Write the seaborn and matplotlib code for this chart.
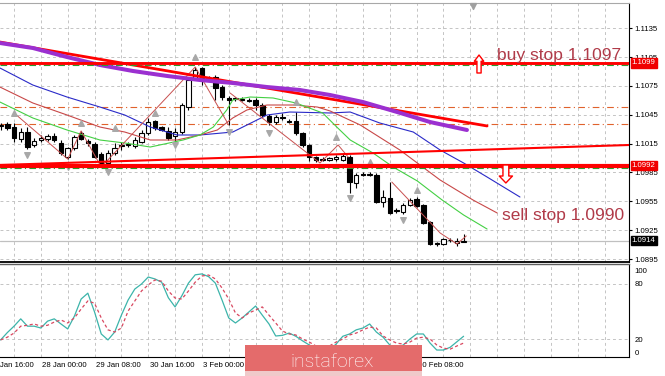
import matplotlib
matplotlib.use("Agg")
import matplotlib.pyplot as plt
import numpy as np
import pandas as pd
import seaborn as sns
from matplotlib.patches import Rectangle
from matplotlib.transforms import blended_transform_factory

# EURUSD H4, bar 0 = 27 Jan 00:00
bars = list(range(70))
opens = [1.10334, 1.10354, 1.10323, 1.10198, 1.10271, 1.10136, 1.10193, 1.10198, 1.10230, 1.10157,
         1.10011, 1.10105, 1.10261, 1.10178, 1.10146, 1.10042, 1.09949, 1.10053, 1.10126, 1.10136,
         1.10126, 1.10167, 1.10261, 1.10386, 1.10323, 1.10282, 1.10230, 1.10271, 1.10531, 1.10833,
         1.10937, 1.10833, 1.10843, 1.10739, 1.10625, 1.10614, 1.10614, 1.10604, 1.10604, 1.10552,
         1.10438, 1.10375, 1.10427, 1.10386, 1.10386, 1.10261, 1.10136, 1.10011, 1.09990, 1.09980,
         1.09990, 1.09980, 1.10011, 1.09741, 1.09834, 1.09824, 1.09824, 1.09543, 1.09585, 1.09460,
         1.09439, 1.09512, 1.09574, 1.09512, 1.09335, 1.09117, 1.09106, 1.09148, 1.09117, 1.09130]
highs = [1.10365, 1.10375, 1.10365, 1.10313, 1.10323, 1.10209, 1.10240, 1.10250, 1.10261, 1.10188,
         1.10115, 1.10240, 1.10282, 1.10198, 1.10167, 1.10063, 1.10084, 1.10157, 1.10167, 1.10167,
         1.10219, 1.10292, 1.10417, 1.10396, 1.10334, 1.10323, 1.10313, 1.10573, 1.10833, 1.10947,
         1.10947, 1.10854, 1.10864, 1.10760, 1.10646, 1.10635, 1.10635, 1.10625, 1.10625, 1.10573,
         1.10458, 1.10448, 1.10469, 1.10406, 1.10479, 1.10271, 1.10146, 1.10022, 1.10011, 1.10011,
         1.10032, 1.10042, 1.10032, 1.09845, 1.09855, 1.09855, 1.09845, 1.09668, 1.09751, 1.09481,
         1.09533, 1.09585, 1.09595, 1.09522, 1.09346, 1.09127, 1.09169, 1.09169, 1.09169, 1.09210]
lows = [1.10292, 1.10292, 1.10167, 1.10167, 1.10094, 1.10115, 1.10167, 1.10178, 1.10167, 1.10032,
        1.09990, 1.10084, 1.10188, 1.10126, 1.10001, 1.09907, 1.09907, 1.10032, 1.10084, 1.10115,
        1.10105, 1.10157, 1.10240, 1.10292, 1.10282, 1.10188, 1.10157, 1.10250, 1.10500, 1.10812,
        1.10760, 1.10812, 1.10604, 1.10604, 1.10344, 1.10594, 1.10594, 1.10583, 1.10500, 1.10427,
        1.10344, 1.10354, 1.10396, 1.10365, 1.10240, 1.10115, 1.09970, 1.09959, 1.09970, 1.09970,
        1.09970, 1.09970, 1.09637, 1.09689, 1.09814, 1.09814, 1.09533, 1.09491, 1.09418, 1.09429,
        1.09418, 1.09502, 1.09491, 1.09314, 1.09096, 1.09086, 1.09096, 1.09127, 1.09086, 1.09127]
closes = [1.10344, 1.10313, 1.10209, 1.10271, 1.10115, 1.10178, 1.10204, 1.10230, 1.10188, 1.10053,
          1.10105, 1.10219, 1.10198, 1.10157, 1.10011, 1.09928, 1.10053, 1.10105, 1.10136, 1.10146,
          1.10188, 1.10261, 1.10375, 1.10313, 1.10292, 1.10209, 1.10271, 1.10552, 1.10812, 1.10916,
          1.10833, 1.10822, 1.10729, 1.10635, 1.10604, 1.10625, 1.10604, 1.10594, 1.10552, 1.10448,
          1.10375, 1.10427, 1.10417, 1.10375, 1.10261, 1.10136, 1.10011, 1.09980, 1.09985, 1.10001,
          1.10011, 1.10022, 1.09751, 1.09824, 1.09824, 1.09834, 1.09543, 1.09595, 1.09429, 1.09450,
          1.09512, 1.09564, 1.09502, 1.09325, 1.09106, 1.09106, 1.09158, 1.09145, 1.09138, 1.09140]

# alligator lines + long MA (bar position, price)
jaw_x = [-0.1, 4.8, 9.9, 14.8, 18.5, 22.3, 26.3, 29.7, 34.6, 37.0, 39.7, 43.1, 49.1, 52.1, 56.5, 61.5, 65.5, 69.0, 72.5, 77.4]
jaw_y = [1.10937, 1.10760, 1.10635, 1.10531, 1.10448, 1.10323, 1.10240, 1.10240, 1.10271, 1.10354,
         1.10448, 1.10479, 1.10469, 1.10479, 1.10365, 1.10271, 1.10084, 1.09949, 1.09803, 1.09595]
teeth_x = [-0.1, 4.8, 9.9, 14.8, 18.5, 22.3, 26.3, 29.7, 32.3, 34.6, 36.7, 39.7, 43.6, 47.2, 49.1, 53.6, 59.5, 65.5, 70.4, 74.0]
teeth_y = [1.10739, 1.10573, 1.10448, 1.10323, 1.10271, 1.10188, 1.10188, 1.10240, 1.10292, 1.10417,
           1.10500, 1.10552, 1.10552, 1.10531, 1.10490, 1.10344, 1.10084, 1.09772, 1.09564, 1.09429]
lips_x = [-0.1, 4.8, 9.9, 14.8, 18.5, 22.3, 27.2, 29.7, 31.7, 33.7, 34.6, 37.2, 40.6, 44.0, 48.0, 50.1,
          52.1, 55.5, 58.5, 62.1, 65.8, 69.0, 72.5]
lips_y = [1.10583, 1.10417, 1.10292, 1.10188, 1.10157, 1.10115, 1.10188, 1.10240, 1.10323, 1.10500,
          1.10604, 1.10635, 1.10625, 1.10573, 1.10469, 1.10323, 1.10188, 1.10053, 1.09907, 1.09762,
          1.09564, 1.09408, 1.09262]
ma_x = [-0.1, 4.8, 9.9, 14.8, 19.7, 24.8, 29.7, 34.6, 39.7, 44.6, 49.1, 54.0, 59.1, 64.0, 69.5]
ma_y = [1.11197, 1.11145, 1.11051, 1.10968, 1.10906, 1.10854, 1.10812, 1.10781, 1.10739, 1.10708,
        1.10656, 1.10583, 1.10479, 1.10375, 1.10292]

# zigzag pieces
zz_a_x = [2, 10, 12, 15, 29, 34]
zz_a_y = [1.10469, 1.09990, 1.10282, 1.09907, 1.10947, 1.10344]
zz_b_x = [34.2, 47.6, 50.3, 51.8]
zz_b_y = [1.10677, 1.09949, 1.10136, 1.10011]
zz_c_x = [58.3, 65.5, 68.0, 69.4]
zz_c_y = [1.09751, 1.09221, 1.09106, 1.09190]

# fractals
frac_up_x = [2, 12, 17, 23, 29, 44, 50, 55, 62]
frac_up_y = [1.10469, 1.10365, 1.10313, 1.10469, 1.11051, 1.10583, 1.10219, 1.09959, 1.09668]
frac_dn_x = [4, 10, 16, 26, 34, 40, 52, 60]
frac_dn_y = [1.10032, 1.09907, 1.09855, 1.10136, 1.10271, 1.10261, 1.09585, 1.09356]

# drawn levels and trendlines
buy_stop_line = 1.1099
sell_stop_line = 1.0992
buy_order = 1.1097
sell_order = 1.0990
orange_levels = [1.10528, 1.10354]
bid = 1.0914
down_trend_x = [-0.1, 72.5]
down_trend_y = [1.11207, 1.10334]
up_trend_x = [-0.1, 93.65]
up_trend_y = [1.09928, 1.10136]

# stochastic
stoch_k = [19, 27, 34, 42, 34, 34, 32, 39.5, 42, 36.4, 31, 45, 63.6, 70, 49.5, 25.5, 19, 27.6, 46, 62.5,
           74.5, 80, 87.6, 85.5, 82, 65, 55, 67, 81, 90, 91, 88, 81, 62.5, 43, 37.5, 43, 49.5, 56, 46,
           36.4, 23.3, 24, 26.5, 23, 18, 13.5, 10, 8, 8, 14.5, 23, 25.5, 30, 32, 36.4, 27.6, 22, 13.5, 10,
           13.5, 20, 25.5, 25.5, 15.6, 8, 8, 11, 17, 23]
stoch_d = [19, 22, 26.5, 34, 35, 36.4, 34, 35, 38.5, 40.7, 37.5, 43, 52.7, 61.5, 59, 43, 30, 27.6, 32, 50.5,
           61.5, 72.4, 79, 84.4, 83, 72.4, 64.7, 63.6, 72.4, 82, 88.7, 89.8, 85.5, 75.6, 63.6, 48.4, 43, 48.4,
           51.6, 55, 46, 37.5, 28.7, 25.5, 24.4, 20, 16.7, 12.4, 10, 12.4, 16.7, 20, 24.4, 26.5, 30, 33, 32,
           23.3, 19, 15.6, 14.5, 16.7, 21, 22, 20, 13.5, 10, 9, 12.4, 15.6]

price_ticks = [1.0895, 1.0925, 1.0955, 1.0985, 1.1015, 1.1045, 1.1075, 1.1105, 1.1135]
grid_bars = list(range(2, 94, 4))
tick_bars = [6, 14, 22, 30, 38, 46, 54, 62]
# labels left visible by the watermark
label_bars = [-2, 6, 14, 22, 30, 62]
time_labels = ["24 Jan 16:00", "28 Jan 00:00", "29 Jan 08:00", "30 Jan 16:00", "3 Feb 00:00", "10 Feb 08:00"]

sns.set_style("white")
plt.rcParams["font.family"] = ["Liberation Sans", "DejaVu Sans"]

W, H = 665, 376
fig = plt.figure(figsize=(W / 100, H / 100), dpi=100)
ax = fig.add_axes([0, 1 - 262 / H, 629 / W, 259 / H])
ax2 = fig.add_axes([0, 1 - 357 / H, 629 / W, 93 / H])
XLIM = (-0.09, 93.65)
GRID = dict(color="#c4c4c4", lw=0.7, ls=(0, (3, 3)), zorder=0)

for a in (ax, ax2):
    a.set_xlim(*XLIM)
    for g in grid_bars:
        a.axvline(g, **GRID)
    a.spines["left"].set_visible(False)
    a.spines["right"].set_color("black")
    a.spines["right"].set_linewidth(0.8)
    a.yaxis.tick_right()
    a.tick_params(axis="y", length=2.5, pad=1.5, labelsize=5.6, colors="black")

# ---- main panel
ax.set_ylim(1.08919, 1.11613)
for p in price_ticks:
    ax.axhline(p, **GRID)
ax.set_yticks(price_ticks, labels=[f"{p:.4f}" for p in price_ticks])
ax.set_xticks([])
ax.spines["top"].set_color("#a8a8a8")
ax.spines["bottom"].set_color("black")
ax.spines["bottom"].set_linewidth(1.3)

ax.axhline(bid, color="#c0c0c0", lw=0.9, zorder=1)

df = pd.DataFrame(dict(bar=bars, open=opens, high=highs, low=lows, close=closes))
up = df["close"] >= df["open"]
body_lo = df[["open", "close"]].min(axis=1)
body_h = (df["close"] - df["open"]).abs().clip(lower=0.00002)
ax.vlines(df["bar"], df["low"], df["high"], color="black", lw=0.8, zorder=3)
ax.bar(df["bar"], body_h, bottom=body_lo, width=0.66,
       color=np.where(up, "white", "black"), edgecolor="black", lw=0.8, zorder=3.5)

line_kw = dict(ax=ax, estimator=None, sort=False, legend=False)
sns.lineplot(x=jaw_x, y=jaw_y, color="#2a2ac8", lw=0.8, zorder=4, **line_kw)
sns.lineplot(x=teeth_x, y=teeth_y, color="#c84848", lw=0.8, zorder=4, **line_kw)
sns.lineplot(x=lips_x, y=lips_y, color="#44d044", lw=0.8, zorder=4, **line_kw)
for zx, zy in ((zz_a_x, zz_a_y), (zz_b_x, zz_b_y), (zz_c_x, zz_c_y)):
    sns.lineplot(x=zx, y=zy, color="#c85050", lw=0.7, zorder=4, **line_kw)
sns.lineplot(x=down_trend_x, y=down_trend_y, color="#ff0000", lw=2.0, zorder=5, **line_kw)
sns.lineplot(x=ma_x, y=ma_y, color="#9b30d0", lw=2.9, zorder=5, **line_kw)
sns.lineplot(x=up_trend_x, y=up_trend_y, color="#ff0000", lw=1.5, zorder=5, **line_kw)

ax.scatter(frac_up_x, frac_up_y, marker="^", s=16, color="#a8a8a8", zorder=4)
ax.scatter(frac_dn_x, frac_dn_y, marker="v", s=16, color="#a8a8a8", zorder=4)
ax.scatter([70.4], [1.11585], marker="v", s=18, color="#a0a0a0", zorder=4, clip_on=False)

for lvl in orange_levels:
    ax.axhline(lvl, color="#e0622c", lw=0.8, ls=(0, (6, 3, 1, 3)), zorder=2)
ax.axhline(buy_stop_line, color="#ff0000", lw=2.1, zorder=6)
ax.axhline(sell_stop_line, color="#ff0000", lw=3.0, zorder=6)
ax.axhline(buy_order, color="#2e9a2e", lw=0.8, ls=(0, (6, 3, 1, 3)), zorder=6)
ax.axhline(sell_order, color="#2e9a2e", lw=0.8, ls=(0, (6, 3, 1, 3)), zorder=6)

lab_tr = blended_transform_factory(ax.transAxes, ax.transData)
for val, bg in ((buy_stop_line, "#f00000"), (sell_stop_line, "#f00000"), (bid, "black")):
    ax.annotate(f"{val:.4f}", xy=(1, val), xycoords=lab_tr, xytext=(2.0, 0), textcoords="offset points",
                ha="left", va="center", fontsize=5.6, color="white", zorder=10, annotation_clip=False,
                bbox=dict(boxstyle="square,pad=0.15", fc=bg, ec=bg))

ax.text(73.98, 1.11015, "buy stop 1.1097", color="#b03a48", fontsize=12.5, ha="left", va="baseline", zorder=7)
ax.text(74.7, 1.09356, "sell stop 1.0990", color="#b03a48", fontsize=12.5, ha="left", va="baseline", zorder=7)

ax.annotate("", xy=(71.3, 1.11072), xytext=(71.3, 1.10885),
            arrowprops=dict(arrowstyle="simple,head_length=0.45,head_width=0.68,tail_width=0.3",
                            fc="white", ec="#ff0000", lw=1.0, shrinkA=0, shrinkB=0), zorder=8)
ax.annotate("", xy=(75.3, 1.09741), xytext=(75.3, 1.09928),
            arrowprops=dict(arrowstyle="simple,head_length=0.5,head_width=0.95,tail_width=0.42",
                            fc="white", ec="#ff0000", lw=1.0, shrinkA=0, shrinkB=0), zorder=8)

# ---- stochastic panel
ax2.set_ylim(0.4, 101.8)
for lvl in (20, 80):
    ax2.axhline(lvl, **GRID)
ax2.set_yticks([5.8, 20, 80, 94.5], labels=["0", "20", "80", "100"])
ax2.tick_params(axis="y", length=0, pad=4)
ax2.spines["top"].set_color("#606060")
ax2.spines["top"].set_linewidth(1.0)
ax2.spines["bottom"].set_color("black")
ax2.set_xticks(tick_bars, labels=[""] * len(tick_bars))
ax2.tick_params(axis="x", length=3, width=0.8, colors="black", direction="out")

sns.lineplot(x=bars, y=stoch_k, ax=ax2, color="#3cb4aa", lw=0.9, estimator=None, legend=False, zorder=4)
ax2.plot(bars, stoch_d, color="#d84860", lw=0.9, ls=(0, (2.5, 2)), zorder=4)

t_tr = blended_transform_factory(ax2.transData, ax2.transAxes)
for b, lab in zip(label_bars, time_labels):
    ax2.text(b + 0.2, -0.09, lab, transform=t_tr, ha="left", va="center", fontsize=5.6,
             color="black", clip_on=False)

# watermark
fig.add_artist(Rectangle((245 / W, 1 - 371 / H), 177 / W, 26 / H, transform=fig.transFigure,
                         fc="#e46b6b", ec="none", zorder=20))
fig.add_artist(Rectangle((245 / W, 0), 177 / W, 5 / H, transform=fig.transFigure,
                         fc="#efcaca", ec="none", zorder=20))
fig.text(332 / W, 1 - 367 / H, "instaforex", color="white", fontsize=14, family=["Roboto", "DejaVu Sans"],
         fontweight="light", ha="center", va="baseline", zorder=21)

fig.savefig("out.png", dpi=100, facecolor="white")
